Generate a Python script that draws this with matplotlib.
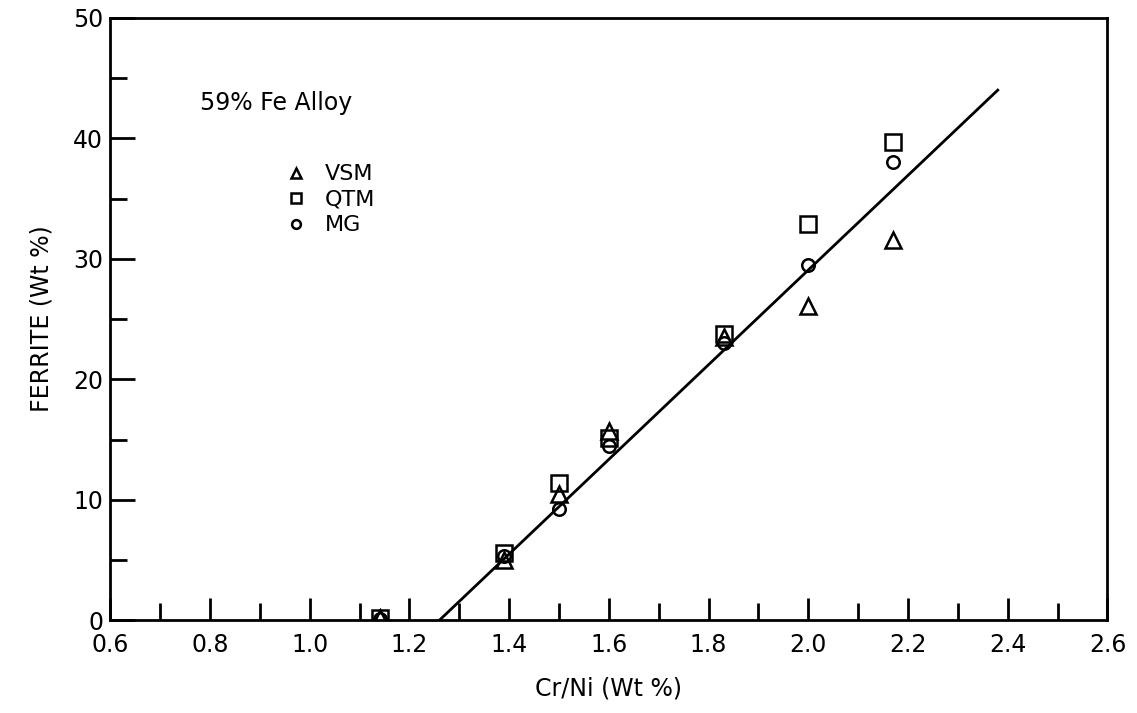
import matplotlib
matplotlib.use("Agg")
import matplotlib.pyplot as plt
import numpy as np

# Datos
cr_ni = [1.14, 1.39, 1.50, 1.60, 1.83, 2.00, 2.17]
vsm = [0.2, 5.0, 10.5, 15.7, 23.5, 26.1, 31.6]
qtm = [0.2, 5.6, 11.4, 15.1, 23.8, 32.9, 39.7]
mg = [0.1, 5.3, 9.2, 14.5, 23.0, 29.5, 38.0]

# Recta de ajuste (extremos)
linea_x = [1.26, 2.38]
linea_y = [0.0, 44.0]

plt.rcParams['font.family'] = ['DejaVu Sans']

fig = plt.figure(figsize=(11.37, 7.13), dpi=100)
ax = fig.add_axes([0.097, 0.13, 0.877, 0.845])

ax.plot(linea_x, linea_y, color='black', lw=2)
ax.plot(cr_ni, vsm, linestyle='none', marker='^', ms=11, mfc='none', mec='black', mew=1.8, label='VSM')
ax.plot(cr_ni, qtm, linestyle='none', marker='s', ms=11, mfc='none', mec='black', mew=1.8, label='QTM')
ax.plot(cr_ni, mg, linestyle='none', marker='o', ms=9, mfc='none', mec='black', mew=1.8, label='MG')

ax.set_xlim(0.6, 2.6)
ax.set_ylim(0, 50)
ax.set_xticks(np.arange(0.6, 2.61, 0.2))
ax.set_xticklabels(['0.6', '0.8', '1.0', '1.2', '1.4', '1.6', '1.8', '2.0', '2.2', '2.4', '2.6'])
ax.set_xticks(np.arange(0.7, 2.6, 0.2), minor=True)
ax.set_yticks([0, 10, 20, 30, 40, 50])
ax.set_yticks([5, 15, 25, 35, 45], minor=True)

ax.tick_params(axis='x', which='major', direction='in', length=16, width=2, labelsize=17, pad=9)
ax.tick_params(axis='x', which='minor', direction='in', length=12, width=2)
ax.tick_params(axis='y', which='major', direction='in', length=18, width=2, labelsize=17, pad=5)
ax.tick_params(axis='y', which='minor', direction='in', length=12, width=2)

for s in ax.spines.values():
    s.set_linewidth(2)

ax.set_xlabel('Cr/Ni (Wt %)', fontsize=17, labelpad=14)
ax.set_ylabel('FERRITE (Wt %)', fontsize=17, labelpad=14)

ax.text(0.78, 42.9, '59% Fe Alloy', fontsize=17, ha='left', va='center')

ax.legend(loc='upper left', bbox_to_anchor=(0.155, 0.79), frameon=False, fontsize=16,
          markerscale=0.7, handlelength=1.0, handletextpad=0.8, labelspacing=0.25)

fig.savefig('out.png', dpi=100)
